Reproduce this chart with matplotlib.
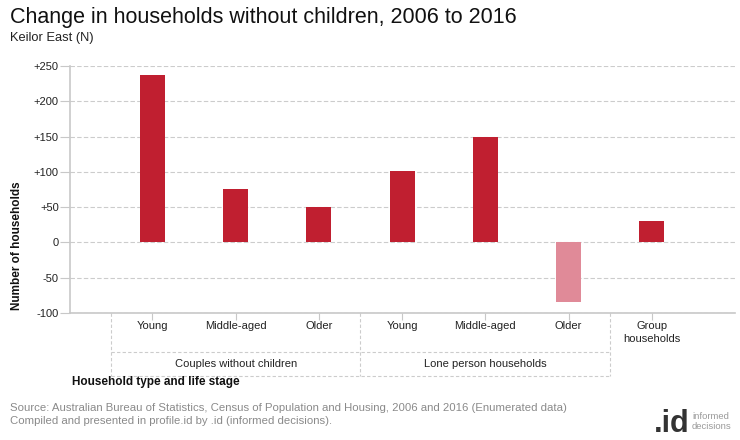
import matplotlib
matplotlib.use("Agg")
import matplotlib.pyplot as plt
import matplotlib.transforms as mtransforms

plt.rcParams['font.family'] = ['Liberation Sans', 'DejaVu Sans']

# ---- data ----
categories = ["Young", "Middle-aged", "Older", "Young", "Middle-aged", "Older", "Group\nhouseholds"]
groups = ["Couples without children", "Lone person households"]
group_spans = [(0, 2), (3, 5)]
values = [237, 75, 50, 101, 150, -84, 31]
yticks = [-100, -50, 0, 50, 100, 150, 200, 250]
ytick_labels = ["-100", "-50", "0", "+50", "+100", "+150", "+200", "+250"]

POS = "#C01F30"
NEG = "#E08A98"
GRID = "#CCCCCC"
AXC = "#C8C8C8"

W, H = 740, 440
fig = plt.figure(figsize=(W / 100, H / 100), dpi=100)
ax = fig.add_axes([70 / W, (H - 313) / H, (735 - 70) / W, (313 - 66) / H])

x = list(range(len(categories)))
colors = [POS if v >= 0 else NEG for v in values]
ax.bar(x, values, width=0.3, color=colors, zorder=3)

ax.set_xlim(-0.99, 7.0)
ax.set_ylim(-100, 250)
ax.set_yticks(yticks)
ax.set_yticklabels(ytick_labels, fontsize=8, color="#222222")
ax.yaxis.grid(True, color=GRID, linestyle=(0, (4, 2)), linewidth=0.8, zorder=0)
ax.set_axisbelow(True)

for s in ["top", "right"]:
    ax.spines[s].set_visible(False)
ax.spines["left"].set_color(AXC)
ax.spines["bottom"].set_color(AXC)
ax.spines["left"].set_linewidth(1.2)
ax.spines["bottom"].set_linewidth(1.2)
ax.tick_params(axis="y", length=7, color=AXC, pad=1)
ax.tick_params(axis="x", length=5, color=AXC, pad=1)
ax.set_xticks(x)
ax.set_xticklabels(categories, fontsize=8, color="#222222", va="top", linespacing=1.3)

# group boxes below axis
trans = mtransforms.blended_transform_factory(ax.transData, ax.transAxes)
ax_h = 313 - 66
y_sep = -(352 - 313) / ax_h
y_bot = -(376 - 313) / ax_h
dash = (0, (3, 2))
for xb in [-0.5, 2.5, 5.5]:
    ax.plot([xb, xb], [0, y_bot], transform=trans, color=GRID, lw=0.8,
            linestyle=dash, clip_on=False)
ax.plot([-0.5, 5.5], [y_sep, y_sep], transform=trans, color=GRID, lw=0.8,
        linestyle=dash, clip_on=False)
ax.plot([-0.5, 5.5], [y_bot, y_bot], transform=trans, color=GRID, lw=0.8,
        linestyle=dash, clip_on=False)
for g, (a, b) in zip(groups, group_spans):
    ax.text((a + b) / 2, (y_sep + y_bot) / 2, g, transform=trans, ha="center",
            va="center", fontsize=8, color="#222222")

# axis titles
fig.text(72 / W, 1 - 382 / H, "Household type and life stage", fontsize=8.5,
         fontweight="bold", ha="left", va="center", color="#111111")
fig.text(17 / W, 1 - 246 / H, "Number of households", fontsize=8.5,
         fontweight="bold", rotation=90, ha="center", va="center", color="#111111")

# titles
fig.text(10 / W, 1 - 17 / H, "Change in households without children, 2006 to 2016",
         fontsize=15.5, ha="left", va="center", color="#111111")
fig.text(10 / W, 1 - 38 / H, "Keilor East (N)", fontsize=9.3, ha="left",
         va="center", color="#222222")

# footer
fig.text(10 / W, 1 - 408 / H,
         "Source: Australian Bureau of Statistics, Census of Population and Housing, 2006 and 2016 (Enumerated data)",
         fontsize=8.2, ha="left", va="center", color="#8A8A8A")
fig.text(10 / W, 1 - 421 / H,
         "Compiled and presented in profile.id by .id (informed decisions).",
         fontsize=8.2, ha="left", va="center", color="#8A8A8A")

# logo
fig.text(690 / W, 1 - 432 / H, ".id", fontsize=22, fontweight="bold", ha="right",
         va="baseline", color="#333333")
fig.text(692 / W, 1 - 416 / H, "informed", fontsize=6.8, ha="left",
         va="center", color="#9A9A9A")
fig.text(692 / W, 1 - 426.5 / H, "decisions", fontsize=6.8, ha="left",
         va="center", color="#9A9A9A")

fig.savefig("out.png", dpi=100)
